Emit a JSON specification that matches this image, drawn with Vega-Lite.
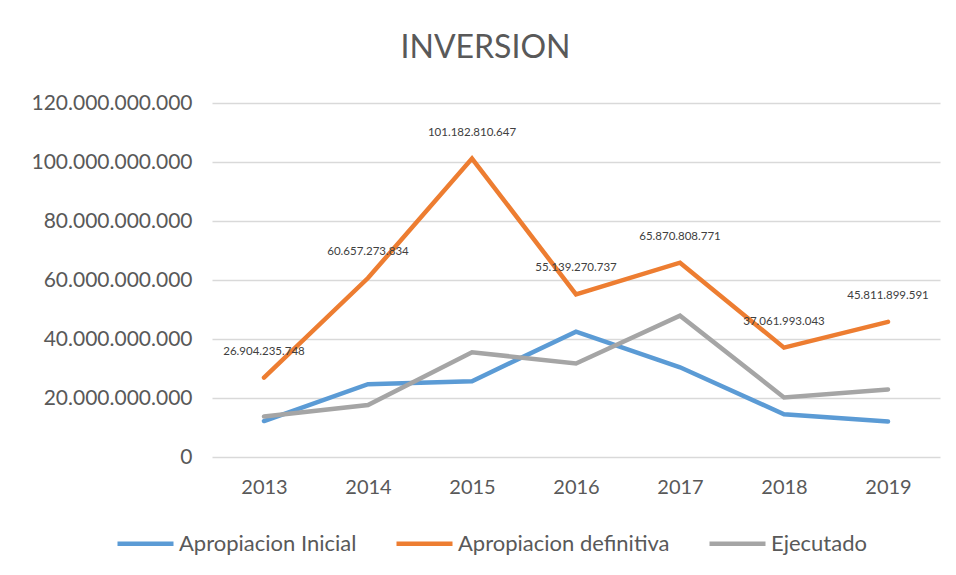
{
  "$schema": "https://vega.github.io/schema/vega-lite/v6.json",
  "autosize": "none",
  "width": 728,
  "height": 354,
  "padding": {"left": 212, "top": 103, "right": 16, "bottom": 118},
  "background": "white",
  "title": {
    "text": "INVERSION",
    "fontSize": 32,
    "font": "Lato",
    "fontWeight": "normal",
    "color": "#595959",
    "frame": "bounds",
    "anchor": "middle",
    "offset": 27
  },
  "config": {
    "locale": {"number": {"decimal": ",", "thousands": ".", "grouping": [3], "currency": ["$", ""]}},
    "view": {"stroke": null},
    "font": "Lato"
  },
  "data": {
    "values": [
      {"year": "2013", "serie": "Apropiacion Inicial", "value": 12200000000},
      {"year": "2014", "serie": "Apropiacion Inicial", "value": 24700000000},
      {"year": "2015", "serie": "Apropiacion Inicial", "value": 25700000000},
      {"year": "2016", "serie": "Apropiacion Inicial", "value": 42500000000},
      {"year": "2017", "serie": "Apropiacion Inicial", "value": 30400000000},
      {"year": "2018", "serie": "Apropiacion Inicial", "value": 14500000000},
      {"year": "2019", "serie": "Apropiacion Inicial", "value": 12000000000},
      {"year": "2013", "serie": "Apropiacion definitiva", "value": 26904235748},
      {"year": "2014", "serie": "Apropiacion definitiva", "value": 60657273834},
      {"year": "2015", "serie": "Apropiacion definitiva", "value": 101182810647},
      {"year": "2016", "serie": "Apropiacion definitiva", "value": 55139270737},
      {"year": "2017", "serie": "Apropiacion definitiva", "value": 65870808771},
      {"year": "2018", "serie": "Apropiacion definitiva", "value": 37061993043},
      {"year": "2019", "serie": "Apropiacion definitiva", "value": 45811899591},
      {"year": "2013", "serie": "Ejecutado", "value": 13700000000},
      {"year": "2014", "serie": "Ejecutado", "value": 17600000000},
      {"year": "2015", "serie": "Ejecutado", "value": 35500000000},
      {"year": "2016", "serie": "Ejecutado", "value": 31700000000},
      {"year": "2017", "serie": "Ejecutado", "value": 47900000000},
      {"year": "2018", "serie": "Ejecutado", "value": 20200000000},
      {"year": "2019", "serie": "Ejecutado", "value": 22900000000}
    ]
  },
  "encoding": {
    "x": {
      "field": "year",
      "type": "ordinal",
      "scale": {"type": "point", "padding": 0.5},
      "axis": {
        "title": null,
        "labelAngle": 0,
        "labelFontSize": 20,
        "labelColor": "#595959",
        "labelPadding": 20,
        "ticks": false,
        "domain": false,
        "grid": false
      }
    },
    "y": {
      "field": "value",
      "type": "quantitative",
      "scale": {"domain": [0, 120000000000], "nice": false},
      "axis": {
        "title": null,
        "values": [0, 20000000000, 40000000000, 60000000000, 80000000000, 100000000000, 120000000000],
        "format": ",d",
        "labelFontSize": 21,
        "labelColor": "#595959",
        "labelPadding": 20,
        "ticks": false,
        "domain": false,
        "gridColor": "#D9D9D9",
        "gridWidth": 1.3
      }
    }
  },
  "layer": [
    {
      "mark": {"type": "line", "strokeWidth": 4.5, "strokeCap": "round", "strokeJoin": "miter"},
      "encoding": {
        "color": {
          "field": "serie",
          "type": "nominal",
          "scale": {
            "domain": ["Apropiacion Inicial", "Apropiacion definitiva", "Ejecutado"],
            "range": ["#5B9BD5", "#ED7D31", "#A5A5A5"]
          },
          "legend": {
            "title": null,
            "orient": "none",
            "legendX": -97,
            "legendY": 410,
            "direction": "horizontal",
            "symbolType": "stroke",
            "symbolSize": 3136,
            "symbolStrokeWidth": 4.5,
            "labelFontSize": 22,
            "labelColor": "#595959",
            "labelOffset": 3,
            "columnPadding": 30,
            "labelLimit": 400
          }
        }
      }
    },
    {
      "transform": [{"filter": "datum.serie == 'Apropiacion definitiva'"}],
      "mark": {"type": "text", "dy": -26, "fontSize": 11.5, "color": "#404040", "baseline": "middle"},
      "encoding": {
        "text": {"field": "value", "type": "quantitative", "format": ",d"}
      }
    }
  ]
}
